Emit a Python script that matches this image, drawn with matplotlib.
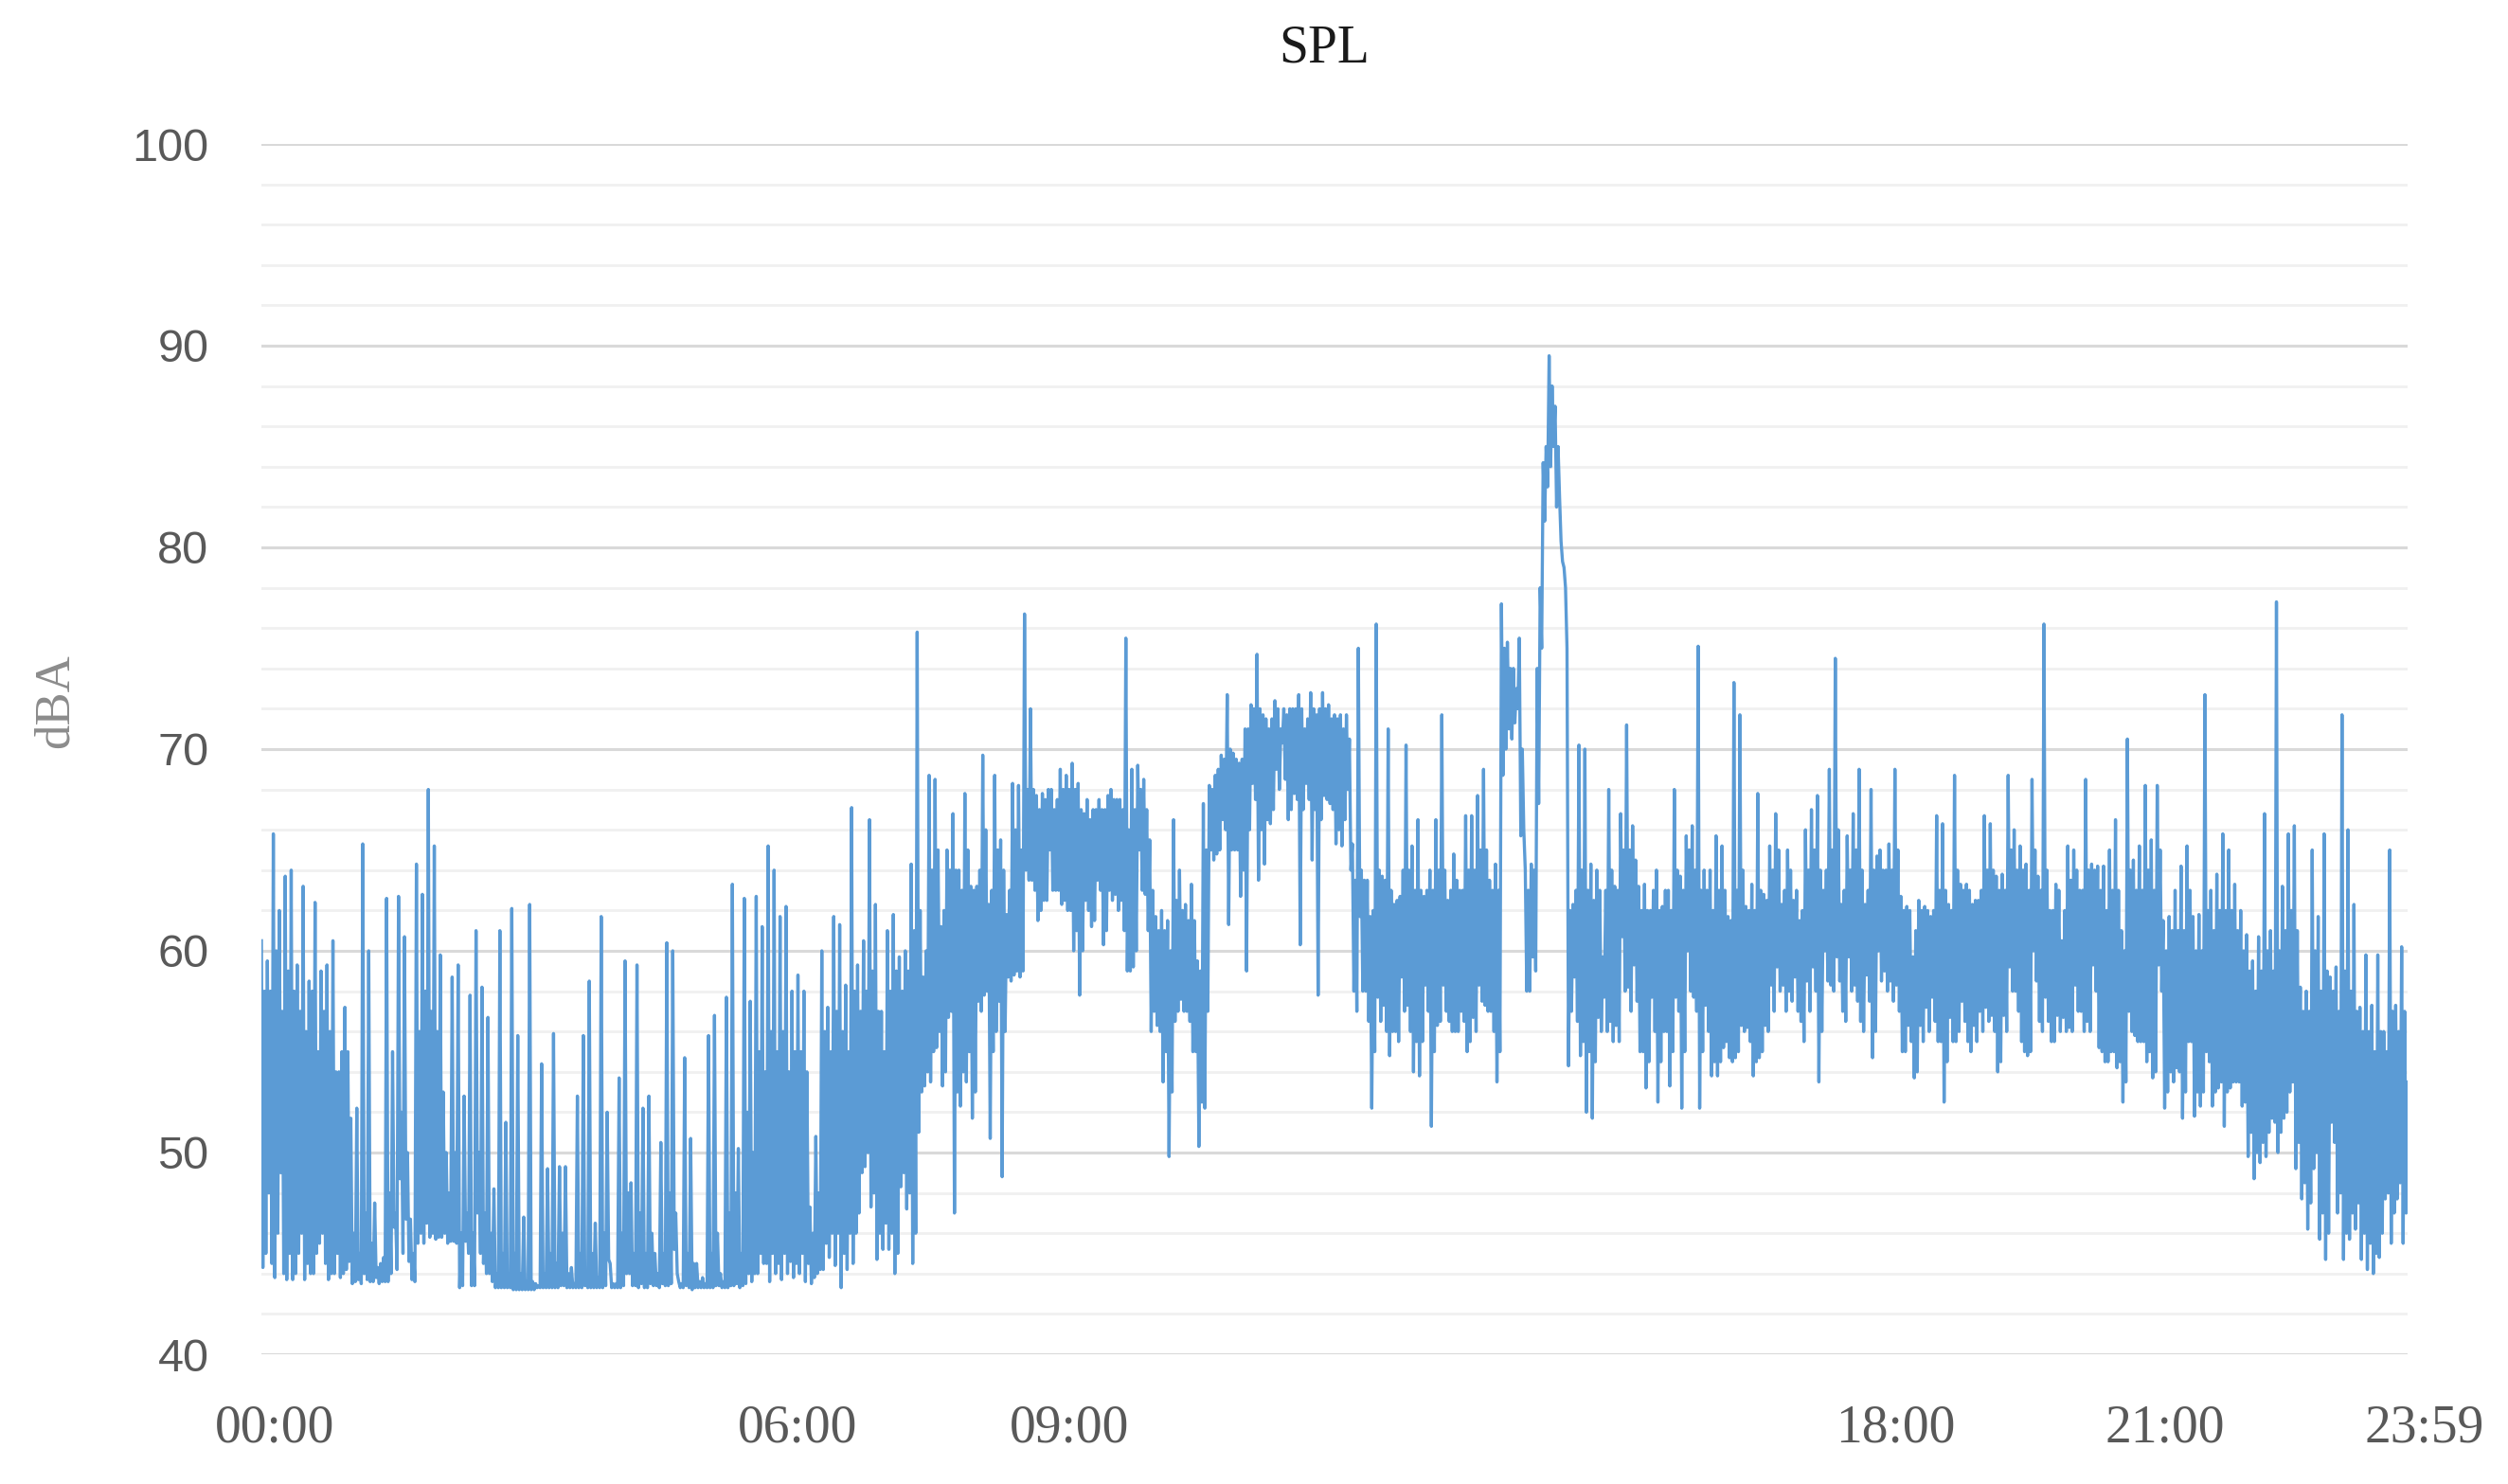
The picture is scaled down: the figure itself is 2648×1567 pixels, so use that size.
import numpy as np
import matplotlib.pyplot as plt
from matplotlib.ticker import MultipleLocator
from matplotlib.transforms import ScaledTranslation

# --- DATA: SPL in dBA, one reading per minute (one row = one hour) ---
spl_night = [  # 00:00 - 05:59
    60.5,44.3,58,45, 59.5,48,58,44.5, 65.8,43.8,60,46, 62,49,57,44, 63.7,43.7,59,45, 64,43.7,58,44, 59.3,45,57,46, 63.2,43.7,56,44.5, 58.5,44,58,44, 62.4,45,55,45.5, 59,46,57,44.5, 59.3,43.7,56,44, 60.5,44,54,45, 54,43.8,55,44, 57.2,44.2,55,44.6,
    51.7,43.5,46,43.6, 52.2,43.7,45,43.5, 65.3,44,47,43.7, 60,43.6,45.5,43.6, 47.5,43.8,44.3,43.5, 44.5,43.6,44.8,43.6, 62.6,43.6,48,44, 55,46.3,47,44.2, 62.7,48.7,52,45, 60.7,46.7,50,44.6, 46.7,43.7,45,43.6, 64.3,45.5,56,46, 62.8,45.5,58,46.5, 68,45.8,57,46, 65.2,45.7,56,45.8,
    59.8,45.8,53,46, 50,45.5,48,45.6, 58.7,45.6,50,45.5, 59.3,43.3,46,43.4, 52.8,45.6,47,45, 57.8,43.4,46,43.4, 61,47,50,45, 58.2,44.5,47,44, 56.7,44,46,43.6, 48.2,43.3,44,43.3, 61,43.3,45,43.3, 51.5,43.3,44,43.3, 62.1,43.2,45,43.2, 55.8,43.2,44,43.2, 46.8,43.2,43.6,43.2,
    62.3,43.2,43.6,43.2, 43.5,43.3,43.4,43.3, 54.4,43.3,44,43.3, 49.2,43.3,45,43.3, 55.9,43.3,44.5,43.3, 49.3,43.4,46,43.4, 49.3,43.3,44,43.3, 44.3,43.3,43.5,43.3, 52.8,43.3,45,43.3, 55.8,43.4,44,43.3, 58.5,43.3,45,43.3, 46.5,43.3,43.8,43.3, 61.7,43.3,46,43.4, 52,44.7,44.5,43.3, 43.5,43.3,43.5,43.3,
    53.7,43.3,46,43.4, 59.5,44,48,44, 48.5,43.4,45,43.4, 59.3,43.3,47,43.5, 52.2,43.3,45,43.3, 52.8,43.5,46,43.4, 45,43.4,44,43.3, 50.5,43.5,45,43.4, 60.4,43.4,48,43.5, 60,45.2,47,44, 43.6,43.3,43.5,43.3, 54.7,43.4,45,43.3, 50.7,43.2,44.5,43.3, 44.5,43.3,43.6,43.3, 43.8,43.3,43.5,43.3,
    55.8,43.3,45,43.3, 56.8,43.4,46,43.4, 44,43.3,43.6,43.3, 57.7,43.3,47,43.4, 63.3,43.4,48,43.5, 50.2,43.3,45,43.4, 62.6,43.5,52,44, 57.5,43.6,50,44, 62.7,44,55,45, 61.2,44.5,54,44.5, 65.2,43.6,56,45, 64,44,55,44.5, 61.7,43.7,56,45, 62.2,44,54,44.6, 58,43.8,55,44.5,
]
spl_morning = [  # 06:00 - 11:59
    58.8,44,55,45, 58,43.6,54,44.5, 47.3,43.5,46,43.8, 50.8,44,48,44.2, 60,44.2,56,45.5, 57.2,44.8,55,46, 61.7,44.4,57,46, 61.3,43.3,56,45, 58.3,44.2,55,46, 67.1,44.5,58,46, 59.3,47,57,49, 60.5,49.3,58,50, 66.5,47.3,59,48, 62.3,44.7,57,46, 57,45.2,55,46.5,
    61,45.2,58,46, 61.8,44,59,45, 59.7,48.3,58,49, 60,47.2,59,48, 64.3,44.5,61,46, 75.8,51,62,53, 58.7,53.3,60,54, 68.7,53.5,64,55, 68.5,55.2,65,56, 61.2,53.3,62,54, 65,56.7,64,57, 66.8,47,64,53, 64,52.3,63,54, 67.8,53.5,65,55, 63.2,51.7,63,53,
    63.2,57.5,64,57, 69.7,57.8,66,58, 62.3,50.7,63,55, 68.7,56,65,57.5, 65.5,48.8,64,56, 61.8,58.7,63,58.5, 68.3,58.8,66,59, 68.2,58.7,65,59, 76.7,64,68,63.5, 72,63.5,68,63, 67.7,61.5,67,62, 67.8,62.5,67.5,62.5, 68,65,68,63, 67,63,67.5,63, 69,62.3,68,62.5,
    68.7,62,68,62, 69.3,60,68,61, 68.3,57.8,67,60, 66.8,62.5,67.5,62, 66.5,61.2,67,61.5, 67,63.5,67.5,63, 67,60.3,67,61, 67.7,63,68,62.5, 67.5,62.8,67.5,62, 67.5,62.5,67,61, 75.5,59,66,59, 69,59.2,67,60, 69.2,65,68,63, 68.5,62.8,67,61, 65.5,56,63,57,
    61.7,56.3,61,56, 62,53.5,61,55, 61.5,49.8,60,53, 66.5,56.5,62.5,57, 64,57.6,62,57, 62.3,57,61.5,56.5, 63.3,55,61.5,55, 59.5,50.3,59,52.5, 67.3,52.2,65,57, 68.2,65,68,64.5, 68.7,64.8,69,65, 69.7,66.5,69.5,66, 72.7,61.3,70,65, 69.8,65,69.5,65, 69.3,62.7,69.5,64,
    71,59,71,66, 72.2,68.3,72,67.5, 74.7,63.5,72,66, 71.7,64.3,71.5,66.5, 71,66.3,71.5,67, 72.4,69,72,68, 71,70.3,72,68.5, 71.7,66.5,72,67, 72,67.8,72,67.5, 72.7,60.3,72,67, 71,68.3,71.5,67.5, 72.8,64.5,72,67, 71.7,57.8,72,66.5, 72.8,67.7,72,67.5, 72.2,67.3,71.5,67,
]
spl_afternoon = [  # 12:00 - 17:59
    71.7,65.3,71.5,66, 71.7,65.2,71,66.5, 71.7,68,70.5,64, 65.3,58,63.5,57, 75,61.7,64,58, 63.5,58,63.5,56.5, 61.7,52.2,62,55, 76.2,57.7,64,56.5, 63.7,57.3,63.5,56, 71,54.8,63,56, 62.3,56,62.5,55.5, 62.7,58.7,64,57, 70.2,57.3,64,56, 65.2,54,63,55.5, 66.5,53.8,63,55.5,
    62.7,58.3,63,57, 64,51.3,63,55, 66.5,56.3,64,56.5, 71.7,58.3,64,57, 62.5,56.5,63,56, 64.8,56,63.5,56, 63,57,63,56.5, 66.7,55,64,55.5, 66.7,56.7,64,56, 67.7,58.3,65,57.5, 69,57.3,65,57, 63.5,57,63,56, 64.3,53.5,63,55, 77.2,68.7,75,70, 75.3,71,74,70.5,
    74,71.3,73,72, 75.5,65.7,70,66, 64,58,63,58, 64.3,59.7,64,59, 74,67.3,78,75, 84.2,81.3,85,83, 89.5,84,88,85, 87,82,85,82.5, 80.3,79.3,79,78, 75,54.3,62,57, 62.3,58.7,63,56.5, 70.2,54.8,64,55.5, 70,52,63,55, 64.3,51.7,62.5,54.5, 64,56.7,63,56,
    59.7,57.7,63,56, 68,56.5,64,55.5, 63.2,56.3,63,55.5, 66.8,60.7,65,58, 71.2,58.2,65,57, 66.2,59.3,64.5,57.5, 63.2,55,62,55, 63.3,53.2,62,54.5, 62,57.7,63,56, 64,52.5,62,54.5, 62.2,56,63,56, 63,53.3,62,55, 68,57.7,64,57, 63.7,52.2,63,55, 65.7,60,65,58,
    66.2,57.7,64,57, 75.1,52.2,63,55, 64,57.3,63,56, 64,53.8,62,54.5, 65.7,53.8,63,54.5, 65.2,55.2,63,55.5, 61.7,54.7,61.5,54.5, 73.3,54.7,63,55, 71.7,56.3,64,56, 62.2,56.2,62,55.5, 63.3,53.8,62,54.5, 67.8,54.7,63,55, 62.8,56.3,62.5,56, 65.2,58.3,64,57, 66.8,59.2,65,58,
    62.3,58.3,63,57, 65,58,64,57.5, 62.5,58.7,63,57, 61.5,56.5,62,55.5, 66,58.5,64,57, 67,59.2,65,58, 67.7,53.5,64,56, 63,60,64,58.5, 69,58.3,65,58, 74.5,59.7,66,58.5, 62.3,57,63,56.5, 65.7,59.7,64,58, 66.8,58.3,65,57.5, 69,56.5,64,56, 62.3,58.8,63,57.5,
]
spl_evening = [  # 18:00 - 24:00
    68,54.7,64,56, 64.7,60,65,58.5, 64,59,64,58, 65.3,58.5,64,57.5, 69,58.3,65,57, 62.7,55,62,55, 62.2,56.3,62,55.5, 59.7,53.7,61,54, 62.5,56.3,62,55.5, 62.2,57.2,62,56, 61.7,57.7,62,56.5, 66.7,55.5,63,55.5, 66.3,52.5,63,54.5, 62.3,56.7,62,55.5, 68.7,55.5,64,56,
    63.3,57.5,63,56.5, 63.3,55.5,63,55, 62.3,56.3,62.5,55.5, 62.5,57,63,56, 66.7,57.2,64,56.5, 66.3,56.8,64,56, 63.7,54,63,54.5, 63.8,56.8,63,56, 68.7,59.2,65,58, 66,58,64,57, 65.2,55.5,64,55, 64.3,54.8,63,55, 68.5,60,65,58.5, 63.7,56.5,63,56, 76.2,57.7,64,56.5,
    62,55.5,62,55.5, 63.3,56.8,63,56, 60.5,56.7,62,56, 65.2,56.2,63.5,56, 65,58.3,64,57, 63,57,63,56, 68.5,56.5,64,56, 64.3,59.3,64,58, 64.2,55.2,63,55, 64.2,54.5,62,54.5, 65,55,63,55, 66.5,54.2,63,54.5, 61,52.5,60,53.5, 70.5,57,64,56, 64.5,55.8,63,55.5,
    65.2,55.5,63,55.5, 68.2,54.5,64,55, 65.5,53.7,63,54, 68.2,59.3,65,58, 61.5,52.2,60,53, 61.7,54,61,53.5, 63,54.2,61,54, 64.2,51.7,61,53, 65.2,55.5,63,55.5, 61.7,51.8,60,53, 61.8,52.3,60,53, 72.7,55,62,54.5, 63,52.3,61,53, 63.8,53.2,62,53.5, 65.8,51.3,62,53,
    65,53.2,62,53.5, 63.3,53.5,61,53.5, 62,52.3,60,52.5, 60.8,49.8,59,51, 59.5,48.7,58,50, 60.7,49.5,59,50.5, 66.8,49.8,60,51, 61,51.7,59,51.5, 77.3,50,60,51, 63.2,51.7,61,52, 65.8,53,62,53.5, 66.2,49.2,61,50.5, 58.2,47.7,57,48.5, 58,46.2,57,47.5, 65,49.2,60,50,
    61.7,45.7,58,47, 65.8,44.7,59,46, 58.7,51.5,58,50.5, 59.2,47,57,48, 71.7,44.7,59,46, 66,45.7,58,47, 62.3,46.2,57,47.5, 57.2,44.7,56,46, 59.8,44.2,56,45.5, 57.3,44,55,45, 59.8,44.8,56,46, 56,47.7,55,48, 65,45.5,57,47, 57.3,47.7,56,48.5, 60.2,45.5,57,47,
    53.5,
]

tick_hours = [0.15, 6.0, 9.03, 18.27, 21.29, 24.0]
tick_labels = ["00:00", "06:00", "09:00", "18:00", "21:00", "23:59"]

spl = np.array(spl_night + spl_morning + spl_afternoon + spl_evening)
hours = np.arange(len(spl)) / 60.0

# --- Plotting ---
plt.rcParams["font.family"] = ["Liberation Sans", "DejaVu Sans"]

fig = plt.figure(figsize=(26.48, 15.67), dpi=100)
ax = fig.add_axes([276 / 2648, 1 - 1430 / 1567, (2542 - 276) / 2648, (1430 - 152) / 1567])

ax.plot(hours, spl, color="#5b9bd5", lw=2.4)

ax.set_xlim(0, 24)
ax.set_ylim(40, 100)
ax.yaxis.set_major_locator(MultipleLocator(10))
ax.yaxis.set_minor_locator(MultipleLocator(2))
ax.grid(which="major", axis="y", color="#d9d9d9", lw=2.2)
ax.grid(which="minor", axis="y", color="#f0f0f0", lw=2.0)
ax.set_axisbelow(True)
for s in ax.spines.values():
    s.set_visible(False)

ax.tick_params(axis="both", which="both", length=0)
ax.tick_params(axis="y", labelsize=35, labelcolor="#595959", pad=40)

ax.set_xticks(tick_hours)
ax.set_xticklabels(tick_labels, fontfamily="Liberation Serif", fontsize=40, color="#595959")
ax.tick_params(axis="x", pad=38)
last = ax.get_xticklabels()[-1]
last.set_transform(last.get_transform() + ScaledTranslation(0.18, 0, fig.dpi_scale_trans))

fig.text(1398 / 2648, 1 - 51 / 1567, "SPL", ha="center", va="center",
         fontfamily="Liberation Serif", fontsize=40, color="#1a1a1a")
fig.text(59 / 2648, 1 - 740 / 1567, "dBA", ha="center", va="center", rotation=90,
         fontfamily="Liberation Serif", fontsize=38, color="#8c8c8c")

fig.savefig("out.png", dpi=100)
plt.close(fig)
